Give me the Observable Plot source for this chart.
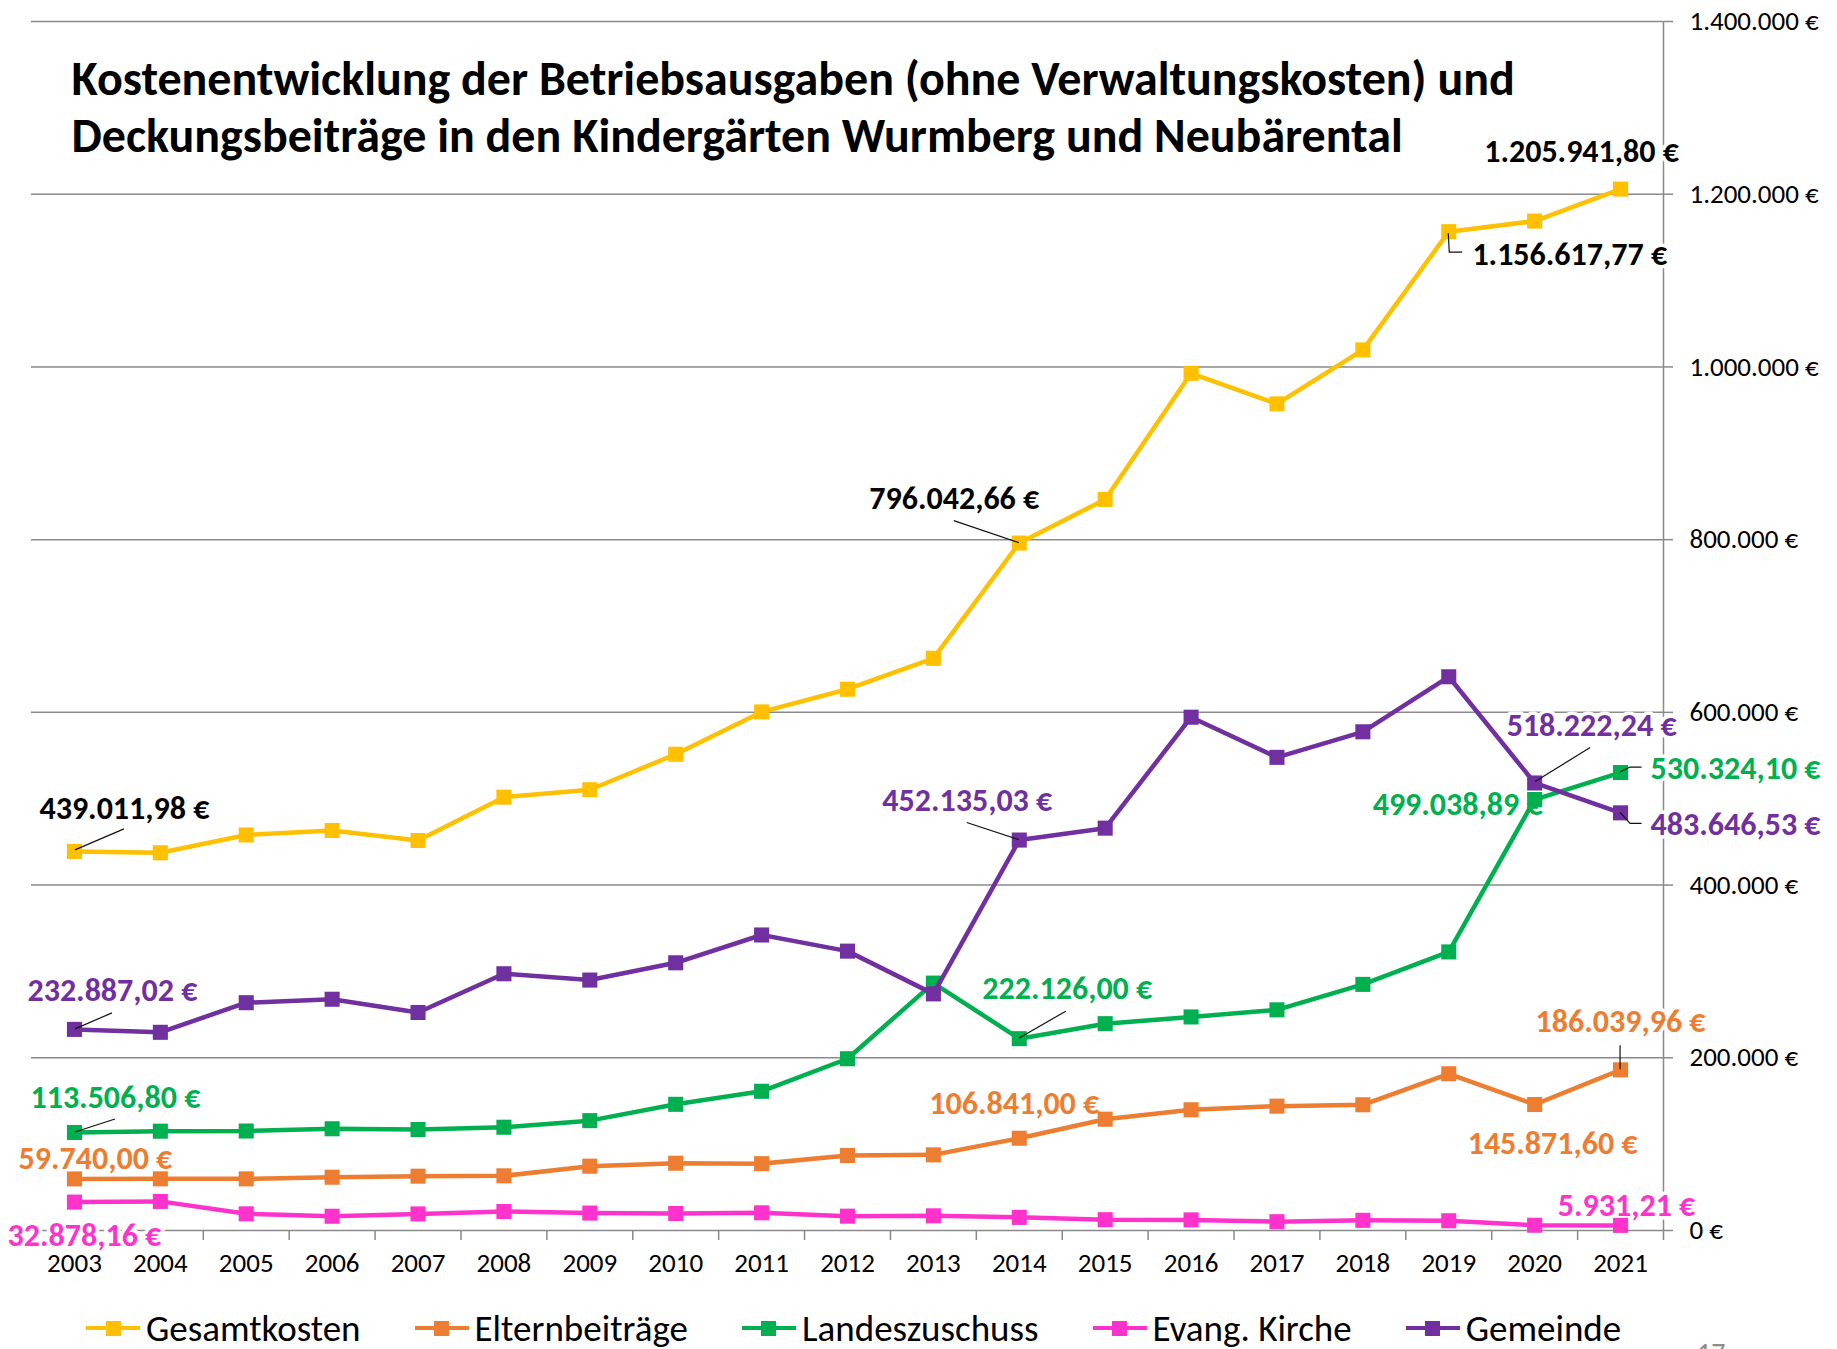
<!DOCTYPE html>
<html><head><meta charset="utf-8">
<script src="https://cdn.jsdelivr.net/npm/d3@7"></script>
<script src="https://cdn.jsdelivr.net/npm/@observablehq/plot@0.6"></script>
<style>
body{margin:0;background:#fff;font-family:Carlito,Lato,sans-serif;}
#wrap{position:relative;width:1837px;height:1349px;overflow:hidden;background:#fff;}
#chart svg text{paint-order:stroke;}
#legend{position:absolute;left:86px;top:1297px;height:62px;display:flex;align-items:center;gap:54px;}
.item{display:flex;align-items:center;font-size:37px;color:#000;white-space:nowrap;line-height:1;}
.sw{position:relative;width:54px;height:15px;margin-right:6px;flex:none;}
.sw .ln{position:absolute;left:0;right:0;top:5.5px;height:4px;}
.sw .sq{position:absolute;left:19.5px;top:0;width:15px;height:15px;}
#page{position:absolute;left:1697px;top:1340px;font-size:28px;color:#8c8c8c;line-height:1;}
</style></head>
<body><div id="wrap"><div id="chart"></div><div id="legend"></div><div id="page">17</div></div>
<script>
// ---------- data ----------
const years = [2003,2004,2005,2006,2007,2008,2009,2010,2011,2012,2013,2014,2015,2016,2017,2018,2019,2020,2021];
const seriesNames = ["Gesamtkosten","Elternbeiträge","Landeszuschuss","Evang. Kirche","Gemeinde"];
const gesamtkosten   = [439011.98,437400,458000,463200,451600,501800,510400,551500,600500,626800,662600,796042.66,846600,992600,957200,1019700,1156617.77,1168900,1205941.80];
const elternbeitraege= [59740.00,59800,59800,61700,62900,63300,74500,77900,77400,86900,87600,106841.00,128900,139800,144000,145600,181500,145871.60,186039.96];
const landeszuschuss = [113506.80,115000,115200,117800,116900,119600,127200,146100,161200,198900,286500,222126.00,239500,247300,255500,285000,322600,499038.89,530324.10];
const evangKirche    = [32878.16,33700,19300,16500,19200,22000,20200,19700,20500,16600,17000,15200,12500,12300,10200,11800,11300,6100,5931.21];
const gemeinde       = [232887.02,229500,263800,267800,252500,297300,290000,310000,342200,323500,274000,452135.03,465900,594400,547900,577500,641200,518222.24,483646.53];
const yTicks = [0,200000,400000,600000,800000,1000000,1200000,1400000];
const titleLines = ["Kostenentwicklung der Betriebsausgaben (ohne Verwaltungskosten) und",
                    "Deckungsbeiträge in den Kindergärten Wurmberg und Neubärental"];
const pageNumber = "17";
// data points that carry a value label
const labelled = [
  ["Gesamtkosten",2003],["Gesamtkosten",2014],["Gesamtkosten",2019],["Gesamtkosten",2021],
  ["Gemeinde",2003],["Gemeinde",2014],["Gemeinde",2020],["Gemeinde",2021],
  ["Landeszuschuss",2003],["Landeszuschuss",2014],["Landeszuschuss",2020],["Landeszuschuss",2021],
  ["Elternbeiträge",2003],["Elternbeiträge",2014],["Elternbeiträge",2020],["Elternbeiträge",2021],
  ["Evang. Kirche",2003],["Evang. Kirche",2021]
];

// ---------- styles / layout ----------
const seriesColors = ["#FFC000","#ED7D31","#00B050","#FF33CC","#7030A0"];
const labelColors  = ["#000000","#ED7D31","#00B050","#FF33CC","#7030A0"];
// label offsets (px) relative to the data point; optional leader polyline (px offsets)
const labelLayout = {
  "Gesamtkosten|2021":   {dx:-39, dy:-37},
  "Gesamtkosten|2019":   {dx:121, dy:23, leader:[[0,2],[1,21],[14,21]]},
  "Gesamtkosten|2014":   {dx:-65, dy:-44, leader:[[-65,-22],[0,0]]},
  "Gesamtkosten|2003":   {dx:50, dy:-43, leader:[[50,-22],[1,-1]]},
  "Gemeinde|2003":       {dx:38, dy:-39, leader:[[38,-16],[1,0]]},
  "Landeszuschuss|2003": {dx:41, dy:-35, leader:[[41,-13],[1,0]]},
  "Elternbeiträge|2003": {dx:21, dy:-20},
  "Evang. Kirche|2003":  {dx:10, dy:34},
  "Gemeinde|2014":       {dx:-52, dy:-39, leader:[[-52,-17],[0,0]]},
  "Landeszuschuss|2014": {dx:48, dy:-50, leader:[[47,-27],[0,0]]},
  "Elternbeiträge|2014": {dx:-5, dy:-34},
  "Gemeinde|2020":       {dx:57, dy:-57, leader:[[56,-35],[1,-1]]},
  "Landeszuschuss|2020": {dx:-77, dy:5},
  "Landeszuschuss|2021": {dx:115, dy:-4, leader:[[0,0],[10,-5],[21.5,-5]]},
  "Gemeinde|2021":       {dx:115, dy:12, leader:[[0,0],[10,11],[21.5,11]]},
  "Elternbeiträge|2021": {dx:0, dy:-48, leader:[[0,-24],[0,0]]},
  "Elternbeiträge|2020": {dx:18, dy:39},
  "Evang. Kirche|2021":  {dx:6, dy:-20}
};
const FONT = "Carlito, Lato, sans-serif";
const TITLE_SIZE = 48, LABEL_SIZE = 32, TICK_SIZE = 27;

// ---------- build table ----------
const seriesValues = [gesamtkosten, elternbeitraege, landeszuschuss, evangKirche, gemeinde];
const rows = seriesNames.flatMap((s, k) => years.map((year, i) => ({series: s, year, value: seriesValues[k][i]})));
const valueOf = (s, y) => seriesValues[seriesNames.indexOf(s)][years.indexOf(y)];
const labelRows = labelled.map(([series, year]) => ({series, year, value: valueOf(series, year), key: series + "|" + year}));

const de = d3.formatLocale({decimal: ",", thousands: ".", grouping: [3], currency: ["", " €"]});
const fmt2 = v => de.format(",.2f")(v) + " €";
const fmt0 = v => de.format(",.0f")(v) + " €";

const boundaries = years.slice(1).map(y => y - 0.5).concat([years[years.length - 1] + 0.5]);
const GRID = "#8a8a8a";

const marks = [
  Plot.gridY(yTicks, {stroke: GRID, strokeOpacity: 1, strokeWidth: 1.5}),
  Plot.ruleX([years[years.length - 1] + 0.5], {stroke: GRID, strokeWidth: 1.5}),
  Plot.axisY(yTicks, {anchor: "right", tickSize: 9, tickPadding: 17, tickFormat: fmt0, fontSize: TICK_SIZE, stroke: GRID, strokeWidth: 1.5, fill: "#000", label: null}),
  Plot.axisX(boundaries, {anchor: "bottom", tickSize: 10, tickFormat: () => "", stroke: GRID, strokeWidth: 1.5, label: null}),
  Plot.axisX(years, {anchor: "bottom", tickSize: 0, tickPadding: 22, tickFormat: d => String(d), fontSize: TICK_SIZE, fill: "#000", label: null}),
  Plot.text([titleLines.join("\n")], {frameAnchor: "top-left", textAnchor: "start", lineAnchor: "top",
    dx: 40, dy: 33, fontSize: TITLE_SIZE, fontWeight: "bold", lineHeight: 57 / TITLE_SIZE, fill: "#000"}),
  ...labelRows.map(l => {
    const lay = labelLayout[l.key];
    return Plot.text([l], {x: "year", y: "value", text: d => fmt2(d.value), dx: lay.dx, dy: lay.dy,
      textAnchor: "middle", lineAnchor: "middle", fontSize: LABEL_SIZE, fontWeight: "bold",
      fill: labelColors[seriesNames.indexOf(l.series)], stroke: "#fff", strokeWidth: 7});
  }),
  ...seriesNames.flatMap(s => {
    const data = rows.filter(r => r.series === s);
    return [
      Plot.line(data, {x: "year", y: "value", stroke: "series", strokeWidth: 4.5, strokeLinejoin: "round"}),
      Plot.dot(data, {x: "year", y: "value", fill: "series", symbol: "square", r: 8.5})
    ];
  }),
  (index, scales) => {
    const g = d3.create("svg:g").attr("fill", "none").attr("stroke", "#111").attr("stroke-width", 1.2);
    for (const l of labelRows) {
      const lay = labelLayout[l.key];
      if (!lay.leader) continue;
      const px = scales.x(l.year), py = scales.y(l.value);
      g.append("path").attr("d", d3.line()(lay.leader.map(([a, b]) => [px + a, py + b])));
    }
    return g.node();
  }
];

const chart = Plot.plot({
  width: 1837, height: 1300,
  marginTop: 21, marginBottom: 70, marginLeft: 31, marginRight: 174,
  style: {fontFamily: FONT, fontSize: TICK_SIZE + "px", color: "#000", background: "#fff", overflow: "visible"},
  x: {type: "linear", domain: [years[0] - 0.5, years[years.length - 1] + 0.5], label: null},
  y: {domain: [yTicks[0], yTicks[yTicks.length - 1]], label: null},
  color: {domain: seriesNames, range: seriesColors},
  marks
});
document.getElementById("chart").appendChild(chart);

// legend
const legend = d3.select("#legend");
seriesNames.forEach((s, k) => {
  const it = legend.append("div").attr("class", "item");
  const sw = it.append("div").attr("class", "sw");
  sw.append("div").attr("class", "ln").style("background", seriesColors[k]);
  sw.append("div").attr("class", "sq").style("background", seriesColors[k]);
  it.append("span").text(s);
});
document.getElementById("page").textContent = pageNumber;
</script>
</body></html>
